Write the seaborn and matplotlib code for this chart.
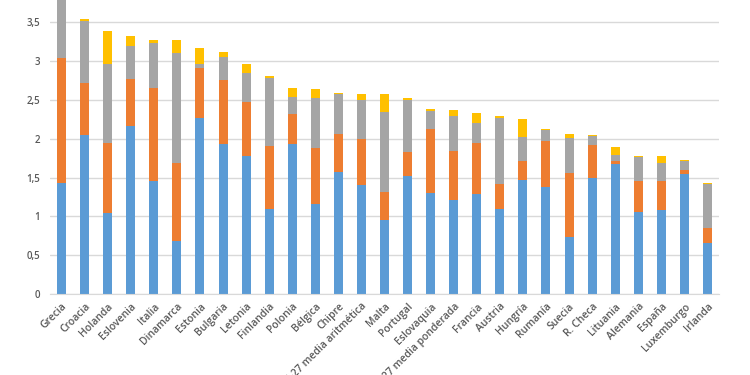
import numpy as np
import pandas as pd
import matplotlib
matplotlib.use("Agg")
import matplotlib.pyplot as plt
import matplotlib.transforms as mtransforms
import seaborn as sns

categories = ["Grecia", "Croacia", "Holanda", "Eslovenia", "Italia", "Dinamarca",
              "Estonia", "Bulgaria", "Letonia", "Finlandia", "Polonia", "Bélgica",
              "Chipre", "UE-27 media aritmética", "Malta", "Portugal", "Eslovaquia",
              "UE-27 media ponderada", "Francia", "Austria", "Hungría", "Rumanía",
              "Suecia", "R. Checa", "Lituania", "Alemania", "España", "Luxemburgo",
              "Irlanda"]

serie1 = [1.43, 2.05, 1.04, 2.16, 1.46, 0.68, 2.27, 1.93, 1.78, 1.10, 1.93, 1.16,
          1.57, 1.40, 0.96, 1.52, 1.30, 1.21, 1.29, 1.09, 1.47, 1.38, 0.74, 1.50,
          1.68, 1.06, 1.08, 1.54, 0.66]
serie2 = [1.61, 0.67, 0.91, 0.61, 1.19, 1.01, 0.64, 0.83, 0.69, 0.81, 0.39, 0.72,
          0.49, 0.60, 0.36, 0.31, 0.82, 0.63, 0.65, 0.33, 0.24, 0.59, 0.82, 0.42,
          0.03, 0.40, 0.37, 0.06, 0.19]
serie3 = [0.95, 0.80, 1.01, 0.43, 0.59, 1.42, 0.05, 0.30, 0.38, 0.87, 0.22, 0.64,
          0.52, 0.50, 1.02, 0.67, 0.24, 0.45, 0.27, 0.85, 0.31, 0.14, 0.45, 0.12,
          0.08, 0.31, 0.24, 0.11, 0.57]
serie4 = [0.00, 0.03, 0.43, 0.12, 0.03, 0.16, 0.21, 0.06, 0.11, 0.03, 0.11, 0.12,
          0.01, 0.08, 0.24, 0.03, 0.03, 0.08, 0.12, 0.03, 0.24, 0.01, 0.05, 0.01,
          0.10, 0.01, 0.09, 0.02, 0.01]

yticks = [0, 0.5, 1, 1.5, 2, 2.5, 3, 3.5]
ytick_labels = ["0", "0,5", "1", "1,5", "2", "2,5", "3", "3,5"]

colors = ["#5B9BD5", "#ED7D31", "#A5A5A5", "#FFC000"]

df = pd.DataFrame({"cat": categories, "s1": serie1, "s2": serie2,
                   "s3": serie3, "s4": serie4})
cum = np.cumsum(df[["s1", "s2", "s3", "s4"]].values, axis=1)

sns.set_style("white")
plt.rcParams["font.family"] = ["Open Sans", "DejaVu Sans"]

fig = plt.figure(figsize=(7.5, 3.75), dpi=100)
ax = fig.add_axes([50 / 750, 81 / 375, 669 / 750, 294 / 375])

for i in [3, 2, 1, 0]:
    sns.barplot(x=df["cat"], y=cum[:, i], color=colors[i], width=0.39,
                saturation=1, linewidth=0, ax=ax, order=categories)

ax.set_xlim(-0.5, len(categories) - 0.5)
ax.set_ylim(0, 294 / 77.6)
ax.set_yticks(yticks)
ax.set_yticklabels(ytick_labels, color="#595959", fontsize=7, fontweight="semibold")
ax.yaxis.grid(True, color="#D9D9D9", linewidth=1)
ax.set_axisbelow(True)
ax.set_xlabel("")
ax.set_ylabel("")
for s in ["top", "right", "left"]:
    ax.spines[s].set_visible(False)
ax.spines["bottom"].set_color("#D9D9D9")
ax.tick_params(axis="both", length=0)
ax.tick_params(axis="y", pad=7)
ax.set_xticks(range(len(categories)))
ax.set_xticklabels(categories, rotation=45, ha="right", va="center",
                   rotation_mode="anchor", color="#595959", fontsize=7.5,
                   fontweight="semibold")
ax.tick_params(axis="x", pad=5)
offset = mtransforms.ScaledTranslation(4 / 100, -4 / 100, fig.dpi_scale_trans)
for lab in ax.get_xticklabels():
    lab.set_transform(lab.get_transform() + offset)

fig.savefig("out.png", dpi=100)
